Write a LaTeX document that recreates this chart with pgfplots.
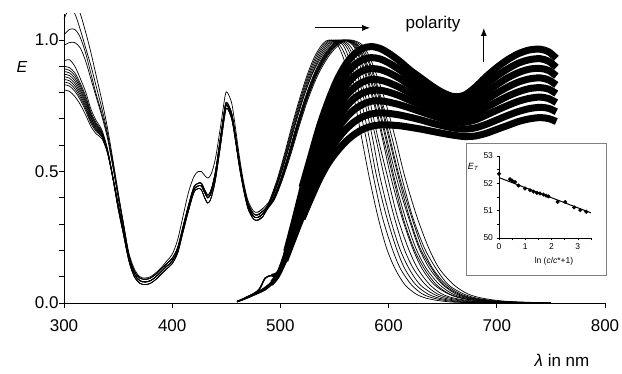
\documentclass[border=0pt]{standalone}
\usepackage{fontspec}
\setmainfont{Liberation Sans}
\usepackage{pgfplots}
\pgfplotsset{compat=1.18}
\usepackage{pgfplotstable}
\usetikzlibrary{arrows.meta}

\pgfplotstableread{
x c1 c2 c3 c4 c5 c6 c7 c8 c9 c10 c11 c12 c13 c14
300 0.86 0.81 0.92 1.08 0.84 0.88 1.02 0.90 1.12 0.98 0.83 0.85 0.87 0.89
305 0.855 0.805 0.925 1.12 0.835 0.875 1.04 0.895 1.15 0.99 0.825 0.845 0.865 0.885
310 0.835 0.785 0.90 1.10 0.815 0.855 1.04 0.875 1.14 0.99 0.805 0.825 0.845 0.865
315 0.80 0.755 0.854 1.04 0.782 0.818 1.01 0.836 1.10 0.97 0.773 0.791 0.809 0.827
320 0.755 0.715 0.803 0.97 0.739 0.771 0.95 0.787 1.03 0.92 0.731 0.747 0.763 0.779
325 0.70 0.67 0.736 0.90 0.688 0.712 0.87 0.724 0.95 0.85 0.682 0.694 0.706 0.718
330 0.665 0.642 0.692 0.82 0.656 0.674 0.79 0.683 0.86 0.78 0.651 0.660 0.669 0.678
335 0.64 0.625 0.658 0.74 0.634 0.646 0.72 0.652 0.77 0.71 0.631 0.637 0.643 0.649
340 0.58 0.572 0.589 0.65 0.577 0.583 0.64 0.586 0.67 0.63 0.575 0.578 0.581 0.584
345 0.48 0.477 0.483 0.54 0.479 0.481 0.53 0.482 0.55 0.52 0.478 0.479 0.480 0.481
350 0.37 0.36 0.38 0.42 0.36 0.37 0.41 0.37 0.42 0.40 0.36 0.37 0.37 0.37
355 0.27 0.26 0.28 0.30 0.26 0.27 0.30 0.27 0.30 0.29 0.26 0.27 0.28 0.27
360 0.17 0.16 0.18 0.19 0.16 0.17 0.18 0.17 0.18 0.17 0.16 0.17 0.18 0.17
365 0.11 0.10 0.12 0.13 0.10 0.11 0.12 0.11 0.12 0.11 0.10 0.11 0.12 0.11
370 0.085 0.075 0.095 0.10 0.075 0.085 0.095 0.085 0.095 0.085 0.075 0.085 0.095 0.085
375 0.08 0.07 0.09 0.095 0.07 0.08 0.09 0.08 0.09 0.08 0.07 0.08 0.09 0.08
380 0.085 0.075 0.095 0.10 0.075 0.085 0.095 0.085 0.095 0.085 0.075 0.085 0.095 0.085
385 0.10 0.09 0.11 0.115 0.09 0.10 0.11 0.10 0.11 0.10 0.09 0.10 0.11 0.10
390 0.12 0.11 0.13 0.135 0.11 0.12 0.13 0.12 0.13 0.12 0.11 0.12 0.13 0.12
395 0.14 0.13 0.15 0.16 0.13 0.14 0.15 0.14 0.15 0.14 0.13 0.14 0.15 0.14
400 0.16 0.15 0.17 0.185 0.15 0.16 0.17 0.16 0.17 0.16 0.15 0.16 0.17 0.16
405 0.20 0.19 0.21 0.24 0.19 0.20 0.21 0.20 0.21 0.20 0.19 0.20 0.21 0.20
410 0.28 0.27 0.29 0.33 0.27 0.28 0.29 0.28 0.29 0.28 0.27 0.28 0.29 0.28
415 0.36 0.35 0.37 0.42 0.35 0.36 0.37 0.36 0.37 0.36 0.35 0.36 0.37 0.36
420 0.43 0.42 0.44 0.48 0.42 0.43 0.44 0.43 0.44 0.43 0.42 0.43 0.44 0.43
424 0.445 0.435 0.455 0.50 0.435 0.445 0.455 0.445 0.455 0.445 0.435 0.445 0.455 0.445
427 0.445 0.43 0.455 0.50 0.43 0.445 0.455 0.445 0.455 0.445 0.43 0.445 0.455 0.445
430 0.42 0.40 0.43 0.485 0.40 0.42 0.43 0.42 0.43 0.42 0.40 0.42 0.43 0.42
433 0.40 0.38 0.41 0.475 0.38 0.40 0.41 0.40 0.41 0.40 0.38 0.40 0.41 0.40
436 0.42 0.40 0.43 0.49 0.40 0.42 0.43 0.42 0.43 0.42 0.40 0.42 0.43 0.42
440 0.49 0.47 0.50 0.55 0.47 0.49 0.50 0.49 0.50 0.49 0.47 0.49 0.50 0.49
445 0.63 0.61 0.64 0.68 0.61 0.63 0.64 0.63 0.64 0.63 0.61 0.63 0.64 0.63
449 0.74 0.725 0.75 0.79 0.725 0.74 0.75 0.74 0.75 0.74 0.725 0.74 0.75 0.74
451 0.75 0.74 0.76 0.80 0.74 0.75 0.76 0.75 0.76 0.75 0.74 0.75 0.76 0.75
455 0.71 0.70 0.72 0.76 0.70 0.71 0.72 0.71 0.72 0.71 0.70 0.71 0.72 0.71
458 0.64 0.63 0.65 0.68 0.63 0.64 0.65 0.64 0.65 0.64 0.63 0.64 0.65 0.64
462 0.53 0.52 0.54 0.56 0.52 0.53 0.54 0.53 0.54 0.53 0.52 0.53 0.54 0.53
466 0.44 0.43 0.45 0.46 0.43 0.44 0.45 0.44 0.45 0.44 0.43 0.44 0.45 0.44
470 0.37 0.36 0.38 0.39 0.36 0.37 0.38 0.37 0.38 0.37 0.36 0.37 0.38 0.37
475 0.33 0.32 0.34 0.35 0.32 0.33 0.34 0.33 0.34 0.33 0.32 0.33 0.34 0.33
479 0.325 0.315 0.335 0.345 0.315 0.325 0.335 0.325 0.335 0.325 0.315 0.325 0.335 0.325
484 0.34 0.33 0.35 0.36 0.33 0.34 0.35 0.34 0.35 0.34 0.33 0.34 0.35 0.34
}\absleft

\pgfplotstableread{
x e1 e2 e3 e4 e5 e6 e7 e8
460 0.005 0.005 0.005 0.005 0.005 0.005 0.005 0.005
470 0.025 0.024 0.024 0.023 0.022 0.021 0.021 0.020
480 0.045 0.050 0.043 0.050 0.041 0.050 0.039 0.038
486 0.060 0.095 0.057 0.095 0.054 0.095 0.051 0.050
492 0.082 0.105 0.079 0.105 0.075 0.105 0.072 0.070
498 0.118 0.118 0.113 0.115 0.108 0.113 0.103 0.100
505 0.200 0.194 0.189 0.183 0.177 0.171 0.166 0.160
512 0.310 0.299 0.289 0.278 0.267 0.256 0.246 0.235
520 0.440 0.423 0.406 0.389 0.371 0.354 0.337 0.320
528 0.555 0.532 0.510 0.487 0.465 0.442 0.420 0.397
536 0.670 0.641 0.613 0.584 0.556 0.527 0.499 0.470
544 0.765 0.731 0.698 0.664 0.631 0.597 0.564 0.530
552 0.845 0.807 0.769 0.731 0.694 0.656 0.618 0.575
560 0.905 0.864 0.823 0.783 0.742 0.701 0.658 0.612
568 0.945 0.903 0.861 0.818 0.777 0.734 0.688 0.640
576 0.968 0.925 0.883 0.840 0.798 0.755 0.708 0.660
584 0.975 0.933 0.891 0.850 0.808 0.767 0.719 0.672
592 0.968 0.928 0.888 0.848 0.809 0.769 0.723 0.677
600 0.950 0.913 0.876 0.838 0.802 0.764 0.721 0.677
610 0.920 0.887 0.854 0.820 0.788 0.754 0.715 0.674
620 0.885 0.856 0.827 0.798 0.770 0.741 0.706 0.668
630 0.855 0.829 0.804 0.778 0.753 0.727 0.696 0.661
640 0.825 0.803 0.780 0.758 0.735 0.713 0.684 0.653
650 0.800 0.780 0.760 0.740 0.720 0.700 0.674 0.645
660 0.785 0.766 0.747 0.728 0.709 0.690 0.665 0.638
670 0.790 0.769 0.749 0.728 0.708 0.687 0.661 0.633
680 0.820 0.795 0.771 0.746 0.721 0.696 0.666 0.635
690 0.860 0.831 0.801 0.772 0.743 0.714 0.679 0.645
700 0.895 0.863 0.830 0.798 0.765 0.733 0.696 0.660
710 0.925 0.890 0.856 0.821 0.786 0.751 0.713 0.675
720 0.948 0.912 0.876 0.840 0.803 0.767 0.728 0.690
730 0.962 0.925 0.889 0.852 0.815 0.778 0.739 0.700
740 0.965 0.929 0.892 0.856 0.819 0.783 0.744 0.705
748 0.955 0.919 0.884 0.848 0.813 0.777 0.740 0.701
755 0.930 0.896 0.863 0.829 0.796 0.762 0.727 0.690
}\emis

\begin{document}
\begin{tikzpicture}
\useasboundingbox (-64pt,-71pt) rectangle (558pt,303pt);
\begin{axis}[
  at={(0pt,0pt)}, anchor=south west,
  scale only axis, width=541pt, height=289.3pt,
  xmin=300, xmax=800, ymin=0, ymax=1.1,
  axis x line*=bottom, axis y line*=left,
  axis line style={line width=0.8pt,-},
  xtick={300,400,...,800},
  ytick={0,0.5,1.0},
  minor ytick={0.1,0.2,0.3,0.4,0.6,0.7,0.8,0.9},
  tick align=outside,
  major tick length=5pt, minor tick length=5pt,
  every tick/.style={line width=0.8pt,black},
  /pgf/number format/assume math mode=true,
  yticklabel style={/pgf/number format/.cd,fixed,fixed zerofill,precision=1,/tikz/.cd,xshift=3pt},
  xticklabel style={yshift=-8pt},
  ticklabel style={font=\fontsize{17}{20}\selectfont},
]
\pgfplotsinvokeforeach{e1,e2,e3,e4,e5,e6,e7,e8}{
  \addplot[black, line width=1.2pt, smooth, restrict x to domain=455:500] table[x=x,y=#1] {\emis};
  \addplot[black, line width=2.8pt, smooth, line cap=butt, restrict x to domain=492:514] table[x=x,y=#1] {\emis};
  \addplot[black, line width=4.8pt, smooth, line cap=butt, restrict x to domain=505:530] table[x=x,y=#1] {\emis};
  \addplot[black, line width=7pt, smooth, line cap=butt, restrict x to domain=520:760] table[x=x,y=#1] {\emis};
}
\pgfplotsinvokeforeach{c1,c2,c3,c4,c5,c6,c7,c8,c9,c10,c11,c12,c13,c14}{
  \addplot[black, line width=0.7pt, smooth] table[x=x,y=#1] {\absleft};
}
\addplot[black, line width=0.7pt, smooth] coordinates {(479,0.325)(484,0.34)(490,0.39)(497,0.47)(504,0.57)(511,0.68)(518,0.78)(525,0.87)(532,0.94)(539,0.985)(545,1.0)(553,0.98)(560,0.91)(568,0.78)(575,0.63)(582,0.48)(590,0.33)(598,0.21)(606,0.13)(615,0.07)(625,0.035)(635,0.018)(650,0.007)(670,0.002)(750,0)};
\addplot[black, line width=0.7pt, smooth] coordinates {(479,0.315)(484,0.33)(490.4,0.39)(497.5,0.47)(504.6,0.57)(511.7,0.68)(518.8,0.78)(526,0.87)(533.3,0.94)(540.6,0.985)(547,1.0)(555,0.98)(563,0.91)(571,0.78)(579,0.63)(586,0.48)(594,0.33)(603,0.21)(611,0.13)(621,0.07)(631,0.035)(642,0.018)(657,0.007)(678,0.002)(750,0)};
\addplot[black, line width=0.7pt, smooth] coordinates {(479,0.335)(484,0.35)(490.8,0.39)(498,0.47)(505.2,0.57)(512.4,0.68)(519.6,0.78)(527,0.87)(534.6,0.94)(542.2,0.985)(549,1.0)(558,0.98)(565,0.91)(574,0.78)(582,0.63)(589,0.48)(598,0.33)(607,0.21)(615,0.13)(625,0.07)(636,0.035)(647,0.018)(663,0.007)(685,0.002)(750,0)};
\addplot[black, line width=0.7pt, smooth] coordinates {(479,0.345)(484,0.36)(492,0.40)(499.5,0.48)(507,0.58)(514.5,0.69)(522,0.79)(530,0.875)(538.5,0.94)(547,0.985)(555,1.0)(564,0.98)(573,0.91)(582,0.78)(590,0.63)(599,0.48)(608,0.33)(618,0.21)(627,0.13)(638,0.07)(649,0.035)(661,0.018)(679,0.007)(703,0.002)(750,0)};
\addplot[black, line width=0.7pt, smooth] coordinates {(479,0.315)(484,0.33)(492.4,0.39)(500,0.47)(507.6,0.57)(515.2,0.68)(522.8,0.78)(531,0.87)(539.8,0.94)(548.6,0.985)(557,1.0)(567,0.98)(575,0.91)(585,0.78)(594,0.63)(602,0.48)(612,0.33)(622,0.21)(631,0.13)(642,0.07)(655,0.035)(667,0.018)(685,0.007)(710,0.002)(750,0)};
\addplot[black, line width=0.7pt, smooth] coordinates {(479,0.325)(484,0.34)(492.8,0.39)(500.5,0.47)(508.2,0.57)(515.9,0.68)(523.6,0.78)(532,0.87)(541.1,0.94)(550.2,0.985)(559,1.0)(569,0.98)(578,0.91)(588,0.78)(597,0.63)(605,0.48)(615,0.33)(625,0.21)(635,0.13)(647,0.07)(659,0.035)(672,0.018)(690,0.007)(715,0.002)(750,0)};
\addplot[black, line width=0.7pt, smooth] coordinates {(479,0.335)(484,0.35)(493,0.39)(500.75,0.47)(508.5,0.57)(516.25,0.68)(524,0.78)(532.5,0.87)(541.75,0.94)(551,0.985)(560,1.0)(570,0.98)(579,0.91)(589,0.78)(598,0.63)(607,0.48)(618,0.33)(628,0.21)(638,0.13)(650,0.07)(662,0.035)(675,0.018)(694,0.007)(720,0.002)(750,0)};
\addplot[black, line width=0.7pt, smooth] coordinates {(479,0.325)(484,0.34)(493.4,0.39)(501.25,0.47)(509.1,0.57)(516.95,0.68)(524.8,0.78)(533.5,0.87)(543.05,0.94)(552.6,0.985)(562,1.0)(572,0.98)(582,0.91)(592,0.78)(601,0.63)(610,0.48)(621,0.33)(631,0.21)(641,0.13)(653,0.07)(666,0.035)(679,0.018)(699,0.007)(725,0.002)(750,0)};
\addplot[black, line width=0.7pt, smooth] coordinates {(479,0.335)(484,0.35)(493.6,0.39)(501.5,0.47)(509.4,0.57)(517.3,0.68)(525.2,0.78)(534,0.87)(543.7,0.94)(553.4,0.985)(563,1.0)(574,0.98)(583,0.91)(593,0.78)(603,0.63)(612,0.48)(622,0.33)(633,0.21)(644,0.13)(655,0.07)(669,0.035)(682,0.018)(702,0.007)(728,0.002)(750,0)};
\addplot[black, line width=0.7pt, smooth] coordinates {(479,0.325)(484,0.34)(494,0.39)(502,0.47)(510,0.57)(518,0.68)(526,0.78)(535,0.87)(545,0.94)(555,0.985)(565,1.0)(576,0.98)(585,0.91)(596,0.78)(606,0.63)(615,0.48)(626,0.33)(637,0.21)(647,0.13)(660,0.07)(673,0.035)(687,0.018)(707,0.007)(734,0.002)(750,0)};
\addplot[black, line width=0.7pt, smooth] coordinates {(479,0.315)(484,0.33)(491.2,0.39)(498.5,0.47)(505.8,0.57)(513.1,0.68)(520.4,0.78)(528,0.87)(535.9,0.94)(543.8,0.985)(551,1.0)(560,0.98)(568,0.91)(577,0.78)(585,0.63)(592,0.48)(601,0.33)(610,0.21)(619,0.13)(629,0.07)(641,0.035)(652,0.018)(669,0.007)(691,0.002)(750,0)};
\addplot[black, line width=0.7pt, smooth] coordinates {(479,0.325)(484,0.34)(491.6,0.39)(499,0.47)(506.4,0.57)(513.8,0.68)(521.2,0.78)(529,0.87)(537.2,0.94)(545.4,0.985)(553,1.0)(562,0.98)(570,0.91)(579,0.78)(588,0.63)(596,0.48)(605,0.33)(614,0.21)(623,0.13)(634,0.07)(645,0.035)(657,0.018)(674,0.007)(697,0.002)(750,0)};
\addplot[black, line width=0.7pt, smooth] coordinates {(479,0.335)(484,0.35)(492.6,0.39)(500.25,0.47)(507.9,0.57)(515.55,0.68)(523.2,0.78)(531.5,0.87)(540.45,0.94)(549.4,0.985)(558,1.0)(568,0.98)(576,0.91)(586,0.78)(595,0.63)(604,0.48)(613,0.33)(623,0.21)(633,0.13)(644,0.07)(656,0.035)(669,0.018)(687,0.007)(712,0.002)(750,0)};
\addplot[black, line width=0.7pt, smooth] coordinates {(479,0.325)(484,0.34)(493.2,0.39)(501,0.47)(508.8,0.57)(516.6,0.68)(524.4,0.78)(533,0.87)(542.4,0.94)(551.8,0.985)(561,1.0)(571,0.98)(580,0.91)(591,0.78)(600,0.63)(609,0.48)(619,0.33)(629,0.21)(640,0.13)(651,0.07)(664,0.035)(677,0.018)(696,0.007)(722,0.002)(750,0)};
\draw[line width=1pt,-{Latex[length=8pt,width=6pt]}] (axis cs:532,1.046) -- (axis cs:583,1.046);
\draw[line width=1pt,-{Latex[length=8pt,width=6pt]}] (axis cs:688,0.916) -- (axis cs:688,1.046);
\node[font=\fontsize{17}{20}\selectfont] at (axis cs:641,1.062) {polarity};
\end{axis}
\node[font=\fontsize{16}{19}\selectfont\itshape] at (-42pt,236pt) {E};
\node[font=\fontsize{17}{20}\selectfont] at (498pt,-57pt) {\textit{λ} in nm};
\fill[white] (402pt,28pt) rectangle (542pt,160pt);
\draw[gray, line width=0.8pt] (402pt,28pt) rectangle (542pt,160pt);
\begin{axis}[
  at={(435pt,65pt)}, anchor=south west,
  scale only axis, width=92pt, height=82pt,
  xmin=0, xmax=3.5, ymin=50, ymax=53,
  axis x line*=bottom, axis y line*=left,
  axis line style={line width=0.6pt,-},
  xtick={0,1,2,3}, minor xtick={0.5,1.5,2.5,3.5},
  ytick={50,51,52,53}, minor ytick={50.5,51.5,52.5},
  tick align=outside,
  major tick length=2.5pt, minor tick length=2.5pt,
  every tick/.style={line width=0.6pt,black},
  /pgf/number format/assume math mode=true,
  ticklabel style={font=\fontsize{8.5}{10}\selectfont},
  xlabel={ln (\textit{c}/\textit{c}*+1)},
  xlabel style={font=\fontsize{8.5}{10}\selectfont, xshift=9pt},
  clip=false,
]
\addplot[only marks, mark=*, mark size=1.8pt, black] coordinates {(0,52.35)(0.42,52.15)(0.5,52.1)(0.61,52.05)(0.74,51.92)(0.99,51.81)(1.18,51.75)(1.31,51.7)(1.44,51.65)(1.56,51.63)(1.69,51.59)(1.79,51.55)(1.88,51.52)(2.23,51.32)(2.52,51.32)(2.86,51.12)(3.09,51.02)(3.32,50.96)};
\addplot[black, line width=1pt] coordinates {(0,52.21)(3.5,50.92)};
\node[font=\fontsize{9}{10}\selectfont] at (axis cs:-0.99,52.6) {\textit{E}\raisebox{-0.4ex}{\fontsize{6}{7}\selectfont\textit{T}}};
\end{axis}
\end{tikzpicture}
\end{document}
